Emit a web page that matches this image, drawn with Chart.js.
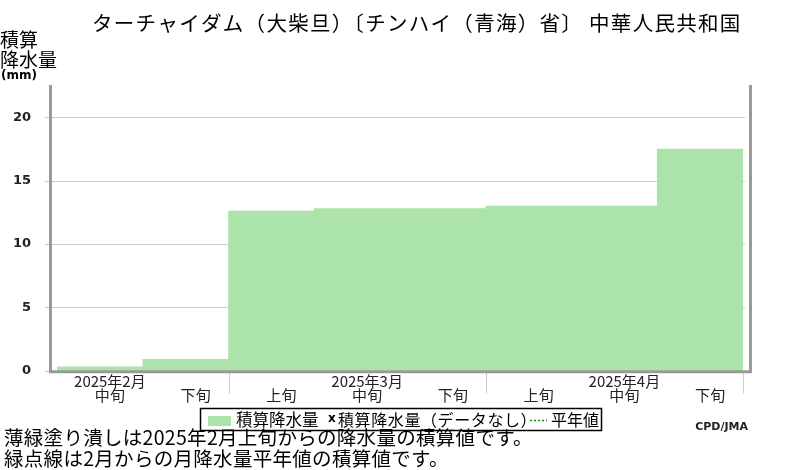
<!DOCTYPE html>
<html>
<head>
<meta charset="utf-8">
<script src="https://cdn.jsdelivr.net/npm/chart.js@4/dist/chart.umd.min.js"></script>
<style>
  html, body { margin: 0; padding: 0; background: #fff; }
  #wrap { position: relative; width: 800px; height: 470px; }
</style>
</head>
<body>
<div id="wrap"><canvas id="precip-chart" width="800" height="470"></canvas></div>
<script>
// dekads shown on the x axis (Feb mid .. Apr late)
const dekads = ['中旬', '下旬', '上旬', '中旬', '下旬', '上旬', '中旬', '下旬'];
const months = ['2025年2月', '', '', '2025年3月', '', '', '2025年4月', ''];
// accumulated precipitation (mm)
const precip = [0.3, 0.9, 12.6, 12.8, 12.8, 13.0, 13.0, 17.5];
const yTicks = [0, 5, 10, 15, 20];
const yMax = 22.55;

const title = 'ターチャイダム（大柴旦）〔チンハイ（青海）省〕 中華人民共和国';
const yTitle = ['積算', '降水量'];
const notes = [
  '薄緑塗り潰しは2025年2月上旬からの降水量の積算値です。',
  '緑点線は2月からの月降水量平年値の積算値です。'
];

const JP = '"Noto Sans CJK JP", sans-serif';
const FILL = '#ace3aa';

const framePlugin = {
  id: 'frame',
  beforeDatasetsDraw(chart) {
    const { ctx, scales: { y } } = chart;
    ctx.save();
    ctx.strokeStyle = '#cccccc';
    ctx.lineWidth = 1;
    yTicks.forEach(v => {
      const py = Math.round(y.getPixelForValue(v)) + 0.5;
      ctx.beginPath();
      ctx.moveTo(45, py);
      ctx.lineTo(745, py);
      ctx.stroke();
    });
    ctx.restore();
  },
  afterDatasetsDraw(chart) {
    const { ctx, chartArea, scales: { x, y } } = chart;
    const step = x.getPixelForTick(1) - x.getPixelForTick(0);
    ctx.save();
    // month separators under the axis
    ctx.strokeStyle = '#cccccc';
    ctx.lineWidth = 1;
    [1, 4, 7].forEach(i => {
      const px = Math.round(x.getPixelForTick(i) + step / 2) + 0.5;
      ctx.beginPath();
      ctx.moveTo(px, chartArea.bottom);
      ctx.lineTo(px, chartArea.bottom + 23);
      ctx.stroke();
    });
    // grey frame: left, bottom, right
    const bottom = y.getPixelForValue(0) + 1;
    ctx.strokeStyle = '#999999';
    ctx.lineWidth = 3;
    ctx.beginPath();
    ctx.moveTo(50.5, chartArea.top);
    ctx.lineTo(50.5, bottom);
    ctx.lineTo(750.5, bottom);
    ctx.lineTo(750.5, chartArea.top);
    ctx.stroke();
    ctx.restore();
  },
  afterDraw(chart) {
    const { ctx } = chart;
    ctx.save();
    ctx.fillStyle = '#000';
    ctx.textBaseline = 'middle';

    ctx.font = '20.5px ' + JP;
    ctx.textAlign = 'left';
    ctx.letterSpacing = '1.3px';
    ctx.fillText(title, 92, 23);
    ctx.letterSpacing = '0px';

    ctx.font = '19px ' + JP;
    ctx.fillText(yTitle[0], 0, 40);
    ctx.fillText(yTitle[1], 0, 60);
    ctx.font = 'bold 12px "DejaVu Sans"';
    ctx.fillText('(mm)', 1, 76);

    // legend
    ctx.strokeStyle = '#000';
    ctx.lineWidth = 1.5;
    ctx.strokeRect(200.5, 408.5, 401, 22);
    ctx.fillStyle = FILL;
    ctx.fillRect(208, 416, 23, 10);
    ctx.fillStyle = '#000';
    ctx.font = '16.5px ' + JP;
    ctx.fillText('積算降水量', 236, 420);
    ctx.font = 'bold 12px "DejaVu Sans"';
    ctx.fillText('x', 328, 419);
    ctx.font = '16px ' + JP;
    ctx.letterSpacing = '0.6px';
    ctx.fillText('積算降水量（データなし）', 338, 420);
    ctx.letterSpacing = '0px';
    ctx.strokeStyle = '#0a8a0a';
    ctx.lineWidth = 1.5;
    ctx.setLineDash([2, 2]);
    ctx.beginPath();
    ctx.moveTo(530, 420.5);
    ctx.lineTo(547, 420.5);
    ctx.stroke();
    ctx.setLineDash([]);
    ctx.fillText('平年値', 551, 420);

    ctx.font = 'bold 11px "DejaVu Sans"';
    ctx.textAlign = 'right';
    ctx.fillStyle = '#222';
    ctx.fillText('CPD/JMA', 748, 427);

    ctx.textAlign = 'left';
    ctx.fillStyle = '#000';
    ctx.font = '19.5px ' + JP;
    ctx.letterSpacing = '0.3px';
    ctx.fillText(notes[0], 4, 438);
    ctx.fillText(notes[1], 4, 459);
    ctx.restore();
  }
};

new Chart(document.getElementById('precip-chart').getContext('2d'), {
  type: 'bar',
  data: {
    labels: months.map((m, i) => [m, dekads[i]]),
    datasets: [{
      label: '積算降水量',
      data: precip,
      backgroundColor: FILL,
      borderWidth: 0,
      barPercentage: 1,
      categoryPercentage: 1
    }]
  },
  options: {
    responsive: false,
    animation: false,
    layout: { padding: { left: 0, right: 57, top: 85, bottom: 59.3 } },
    plugins: {
      legend: { display: false },
      title: { display: false },
      tooltip: { enabled: false }
    },
    scales: {
      x: {
        offset: true,
        grid: { display: false, drawTicks: false },
        border: { display: false },
        afterFit: s => { s.height = 40; },
        ticks: {
          autoSkip: false,
          maxRotation: 0,
          padding: 3,
          labelOffset: 10,
          color: '#222',
          font: { family: '"Noto Sans CJK JP"', size: 15, lineHeight: 0.95 }
        }
      },
      y: {
        min: 0,
        max: yMax,
        grid: { display: false, drawTicks: false },
        border: { display: false },
        afterFit: s => { s.width = 57; },
        afterBuildTicks: s => { s.ticks = yTicks.map(v => ({ value: v })); },
        ticks: {
          padding: 26,
          color: '#222',
          font: { family: '"DejaVu Sans"', size: 13, weight: 'bold' }
        }
      }
    }
  },
  plugins: [framePlugin]
});
</script>
</body>
</html>
